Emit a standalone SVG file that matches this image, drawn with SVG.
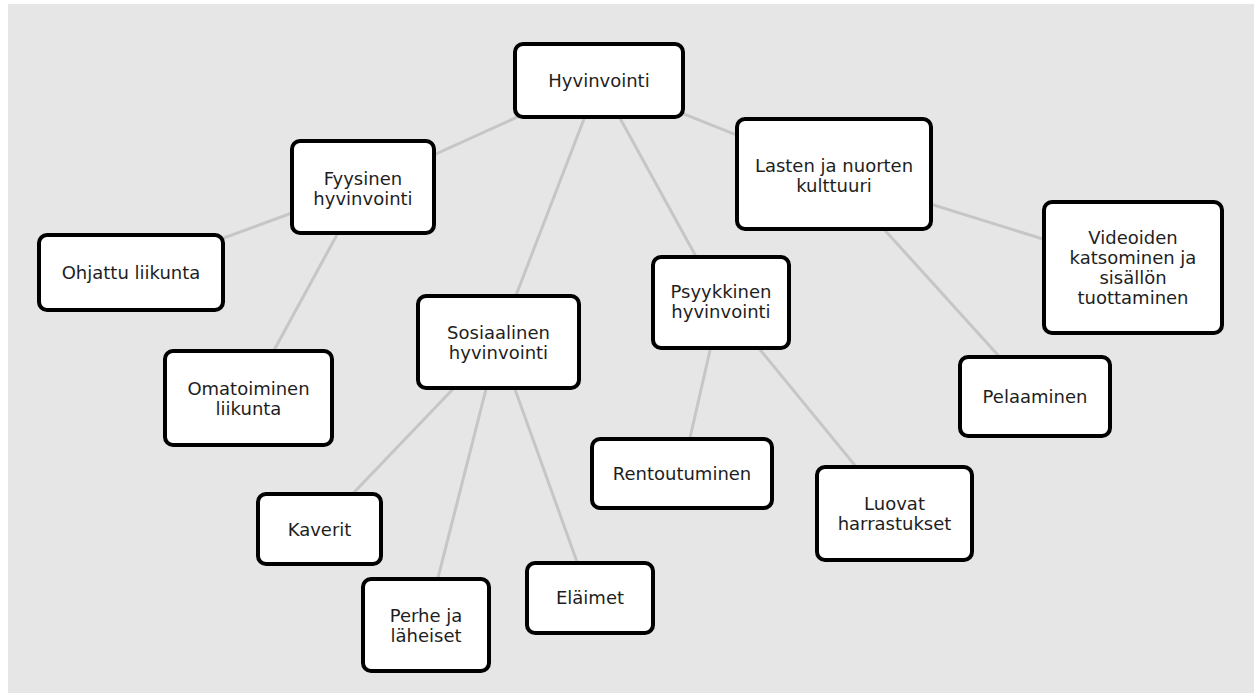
<svg xmlns="http://www.w3.org/2000/svg" width="1254" height="693" viewBox="0 0 1254 693">
<style>
.bg{fill:#e6e6e6}
.edge{stroke:#c6c6c6;stroke-width:3;fill:none}
.box{fill:#ffffff;stroke:#000000;stroke-width:4}
.lbl{font-family:"DejaVu Sans",sans-serif;font-size:18px;fill:#1e1e1e;text-anchor:middle}
</style>
<rect x="0" y="0" width="1254" height="693" fill="#ffffff"/>
<rect class="bg" x="8" y="4" width="1246" height="689"/>
<g id="connectors">
<line class="edge" x1="599" y1="80" x2="363" y2="187"/>
<line class="edge" x1="599" y1="80" x2="834" y2="174"/>
<line class="edge" x1="599" y1="80" x2="498" y2="342"/>
<line class="edge" x1="599" y1="80" x2="721" y2="302"/>
<line class="edge" x1="363" y1="187" x2="131" y2="272"/>
<line class="edge" x1="363" y1="187" x2="248" y2="398"/>
<line class="edge" x1="834" y1="174" x2="1133" y2="267"/>
<line class="edge" x1="834" y1="174" x2="1035" y2="396"/>
<line class="edge" x1="498" y1="342" x2="319" y2="529"/>
<line class="edge" x1="498" y1="342" x2="426" y2="625"/>
<line class="edge" x1="498" y1="342" x2="590" y2="598"/>
<line class="edge" x1="721" y1="302" x2="682" y2="473"/>
<line class="edge" x1="721" y1="302" x2="894" y2="513"/>
</g>
<g id="hyvinvointi">
<rect class="box" x="515" y="44" width="168" height="73" rx="8"/>
<text class="lbl" x="599" y="87">Hyvinvointi</text>
</g>
<g id="fyysinen">
<rect class="box" x="292" y="141" width="142" height="92" rx="8"/>
<text class="lbl" x="363" y="184.5">Fyysinen</text>
<text class="lbl" x="363" y="204.5">hyvinvointi</text>
</g>
<g id="lasten">
<rect class="box" x="737" y="119" width="194" height="110" rx="8"/>
<text class="lbl" x="834" y="171.5">Lasten ja nuorten</text>
<text class="lbl" x="834" y="191.5">kulttuuri</text>
</g>
<g id="ohjattu">
<rect class="box" x="39" y="235" width="184" height="75" rx="8"/>
<text class="lbl" x="131" y="279">Ohjattu liikunta</text>
</g>
<g id="omatoiminen">
<rect class="box" x="165" y="351" width="167" height="94" rx="8"/>
<text class="lbl" x="248.5" y="395">Omatoiminen</text>
<text class="lbl" x="248.5" y="415">liikunta</text>
</g>
<g id="sosiaalinen">
<rect class="box" x="418" y="296" width="161" height="92" rx="8"/>
<text class="lbl" x="498.5" y="338.5">Sosiaalinen</text>
<text class="lbl" x="498.5" y="358.5">hyvinvointi</text>
</g>
<g id="psyykkinen">
<rect class="box" x="653" y="257" width="136" height="91" rx="8"/>
<text class="lbl" x="721" y="297.5">Psyykkinen</text>
<text class="lbl" x="721" y="317.5">hyvinvointi</text>
</g>
<g id="rentoutuminen">
<rect class="box" x="592" y="439" width="180" height="69" rx="8"/>
<text class="lbl" x="682" y="480">Rentoutuminen</text>
</g>
<g id="luovat">
<rect class="box" x="817" y="467" width="155" height="93" rx="8"/>
<text class="lbl" x="894.5" y="509.5">Luovat</text>
<text class="lbl" x="894.5" y="529.5">harrastukset</text>
</g>
<g id="pelaaminen">
<rect class="box" x="960" y="357" width="150" height="79" rx="8"/>
<text class="lbl" x="1035" y="403">Pelaaminen</text>
</g>
<g id="videoiden">
<rect class="box" x="1044" y="202" width="178" height="131" rx="8"/>
<text class="lbl" x="1133" y="243.5">Videoiden</text>
<text class="lbl" x="1133" y="263.5">katsominen ja</text>
<text class="lbl" x="1133" y="283.5">sisällön</text>
<text class="lbl" x="1133" y="303.5">tuottaminen</text>
</g>
<g id="kaverit">
<rect class="box" x="258" y="494" width="123" height="70" rx="8"/>
<text class="lbl" x="319.5" y="535.5">Kaverit</text>
</g>
<g id="perhe">
<rect class="box" x="363" y="579" width="126" height="92" rx="8"/>
<text class="lbl" x="426" y="622">Perhe ja</text>
<text class="lbl" x="426" y="642">läheiset</text>
</g>
<g id="elaimet">
<rect class="box" x="527" y="563" width="126" height="70" rx="8"/>
<text class="lbl" x="590" y="604">Eläimet</text>
</g>
</svg>
